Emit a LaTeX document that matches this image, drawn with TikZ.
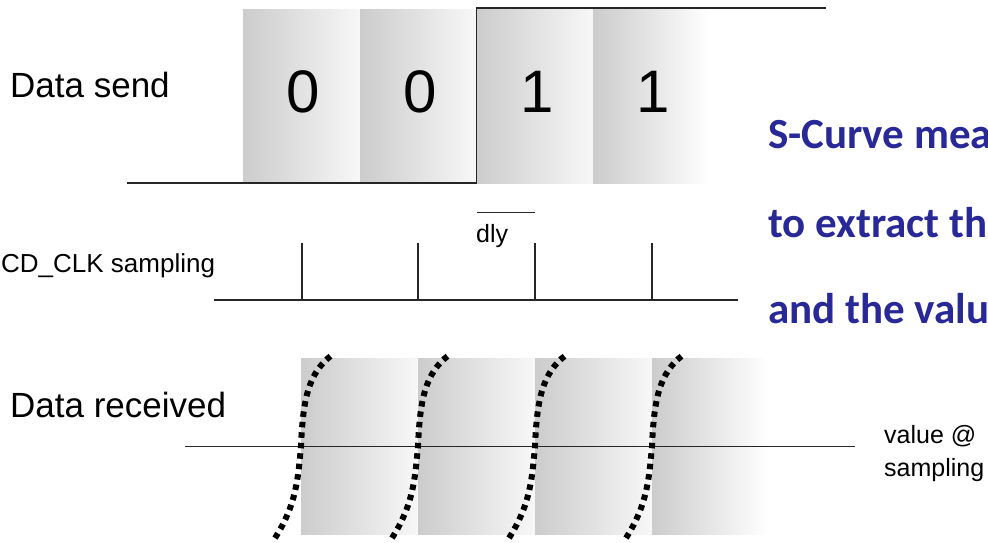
\documentclass[tikz,border=0pt]{standalone}
\usepackage{fontspec}
\setmainfont{Liberation Sans}
\newfontfamily\notefont{Carlito}
\definecolor{noteblue}{RGB}{40,40,150}
\tikzset{
  sig/.style={line width=1.2pt, draw=black!85},
  cell/.style={left color=black!20, right color=black!3},
  lastcell/.style={left color=black!20, right color=white},
  lbl/.style={anchor=base west, inner sep=0pt, font=\fontsize{35}{40}\selectfont},
  small/.style={anchor=base west, inner sep=0pt, font=\fontsize{25}{30}\selectfont},
  bit/.style={anchor=base, inner sep=0pt, font=\fontsize{60}{70}\selectfont},
  note/.style={anchor=base west, inner sep=0pt, text=noteblue,
    font=\notefont\bfseries\fontsize{43}{50}\selectfont},
  scurve/.style={line width=6pt, dash pattern=on 5.5pt off 5pt}
}
\begin{document}
\begin{tikzpicture}[x=1pt, y=-1pt]
\useasboundingbox (0,0) rectangle (988,542);
\clip (0,0) rectangle (988,542);
\fill[white] (0,0) rectangle (988,542);

% sent bit cells
\shade[cell] (243,9) rectangle (360,183);
\shade[cell] (360,9) rectangle (476,183);
\shade[cell] (476,8) rectangle (593,183);
\shade[lastcell] (593,8) rectangle (710,183);

% sent waveform
\coordinate (s0) at (127,183);
\coordinate (s1) at (476.5,183);
\coordinate (s2) at (476.5,8);
\coordinate (s3) at (826,8);
\draw[sig] (s0) -- (s1) -- (s2) -- (s3);

\node[lbl] (send) at (10,97) {Data send};
\node[bit] (b1) at (303,112) {0};
\node[bit] (b2) at (420,112) {0};
\node[bit] (b3) at (537,112) {1};
\node[bit] (b4) at (653,112) {1};

% sampling clock
\node[small, font=\fontsize{26}{30}\selectfont] (clk) at (1,272) {CD\_CLK sampling};
\coordinate (c0) at (214,300);
\coordinate (c1) at (738,300);
\draw[sig] (c0) -- (c1);
\foreach \x/\n in {302/t1,418/t2,535/t3,652/t4}{
  \coordinate (\n) at (\x,243);
  \draw[sig] (\n) -- (\x,300);
}
\coordinate (d0) at (477,212.5);
\coordinate (d1) at (535,212.5);
\draw[sig] (d0) -- (d1);
\node[small] (dly) at (476,242) {dly};

% received bit cells
\shade[cell] (301,358) rectangle (418,534);
\shade[cell] (418,358) rectangle (535,534);
\shade[cell] (535,358) rectangle (652,534);
\shade[lastcell] (652,358) rectangle (768,534);

\node[lbl] (recv) at (10,417) {Data received};
\coordinate (r0) at (185,446.5);
\coordinate (r1) at (855,446.5);
\draw[sig] (r0) -- (r1);

% transition probability curves
\foreach \c in {301,418,535,652}{
  \draw[scurve] (\c-26,538) .. controls (\c-5,505) and (\c-3,480) .. (\c,446)
                .. controls (\c+2,400) and (\c+7,373) .. (\c+31,355);
}

\node[small] (val) at (884,443) {value @};
\node[small] (smp) at (884,476) {sampling};

% explanatory text
\node[note] (n1) at (768,148) {S-Curve mea};
\node[note] (n2) at (768,237) {to extract th};
\node[note] (n3) at (768,323) {and the valu};
\end{tikzpicture}
\end{document}
